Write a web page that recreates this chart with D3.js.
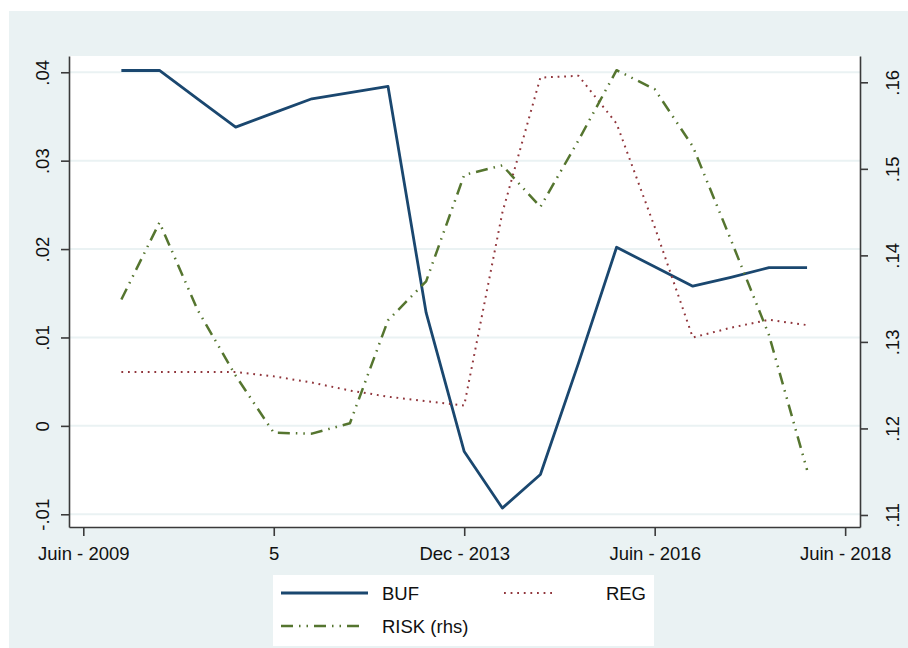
<!DOCTYPE html>
<html>
  <head>
    <meta charset="utf-8">
    <title>BUF REG RISK</title>
    <script src="https://d3js.org/d3.v7.min.js"></script>
    <style>
      body { margin: 0; background: #fff; }
      text { font-family: "Liberation Sans", Arial, sans-serif; fill: #111; }
    </style>
  </head>

  <body>
    <div class="chart"></div>

    <script>
      // periods 1..19 (axis runs 0..20)
      var periods = [1, 2, 3, 4, 5, 6, 7, 8, 9, 10, 11, 12, 13, 14, 15, 16, 17, 18, 19];

      var buf = [0.0402, 0.0402, 0.0370, 0.0338, 0.0354, 0.0370, 0.0377, 0.0384, 0.0128, -0.0029,
                 -0.0093, -0.0055, 0.0071, 0.0202, 0.0180, 0.0158, 0.0168, 0.0179, 0.0179];
      var reg = [0.0061, 0.0061, 0.0061, 0.0061, 0.0056, 0.0049, 0.0040, 0.0033, 0.0028, 0.0023,
                 0.0241, 0.0394, 0.0396, 0.0342, 0.0225, 0.0100, 0.0111, 0.0120, 0.0114];
      // right hand scale
      var risk = [0.1349, 0.1438, 0.1337, 0.1261, 0.1195, 0.1194, 0.1206, 0.1325, 0.1370, 0.1493,
                  0.1504, 0.1456, 0.1533, 0.1614, 0.1592, 0.1526, 0.1418, 0.1308, 0.1152];

      var xTicks = [0, 5, 10, 15, 20];
      var xLabels = ["Juin - 2009", "5", "Dec - 2013", "Juin - 2016", "Juin - 2018"];
      var yLeftTicks = [-0.01, 0, 0.01, 0.02, 0.03, 0.04];
      var yLeftLabels = ["-.01", "0", ".01", ".02", ".03", ".04"];
      var yRightTicks = [0.11, 0.12, 0.13, 0.14, 0.15, 0.16];
      var yRightLabels = [".11", ".12", ".13", ".14", ".15", ".16"];

      var W = 908, H = 648;
      var plot = {left: 69, right: 860, top: 56, bottom: 527};

      var svg = d3.select("div.chart").append("svg")
        .attr("width", W)
        .attr("height", H)

      // outer graph region
      svg.append("rect")
        .attr("x", 9).attr("y", 11)
        .attr("width", W - 9).attr("height", H - 11)
        .attr("fill", "#eaf2f3")

      svg.append("rect")
        .attr("x", plot.left).attr("y", plot.top)
        .attr("width", plot.right - plot.left).attr("height", plot.bottom - plot.top)
        .attr("fill", "#fff")

      var x = d3.scaleLinear().domain([-0.375, 20.39]).range([plot.left, plot.right]);
      var yL = d3.scaleLinear().domain([-0.01144, 0.04184]).range([plot.bottom, plot.top]);
      var yR = d3.scaleLinear().domain([0.10861, 0.16304]).range([plot.bottom, plot.top]);

      //grid
      svg.append("g").selectAll("line")
        .data(yLeftTicks)
        .enter().append("line")
        .attr("x1", plot.left).attr("x2", plot.right)
        .attr("y1", function (d) { return yL(d); })
        .attr("y2", function (d) { return yL(d); })
        .attr("stroke", "#eaf2f3")
        .attr("stroke-width", 2)

      var axisColor = "#3a3a3a";

      function styleAxis(g) {
        g.selectAll("path.domain").attr("stroke", axisColor).attr("stroke-width", 1.6);
        g.selectAll(".tick line").attr("stroke", axisColor).attr("stroke-width", 1.6);
        g.selectAll("text")
          .style("font-family", '"Liberation Sans", Arial, sans-serif')
          .style("font-size", "18.5px")
          .attr("fill", "#111");
      }

      var gx = svg.append("g")
        .attr("transform", "translate(0," + plot.bottom + ")")
        .call(d3.axisBottom(x).tickValues(xTicks).tickSize(9).tickSizeOuter(0)
          .tickFormat(function (d, i) { return xLabels[i]; }))
      styleAxis(gx);
      gx.selectAll("text").attr("y", 0).attr("dy", "33px");

      var gl = svg.append("g")
        .attr("transform", "translate(" + plot.left + ",0)")
        .call(d3.axisLeft(yL).tickValues(yLeftTicks).tickSize(8).tickSizeOuter(0)
          .tickFormat(function (d, i) { return yLeftLabels[i]; }))
      styleAxis(gl);
      gl.selectAll(".tick text")
        .attr("x", null).attr("dy", null)
        .attr("text-anchor", "middle")
        .attr("transform", "translate(-20,0) rotate(-90)")

      var gr = svg.append("g")
        .attr("transform", "translate(" + plot.right + ",0)")
        .call(d3.axisRight(yR).tickValues(yRightTicks).tickSize(8).tickSizeOuter(0)
          .tickFormat(function (d, i) { return yRightLabels[i]; }))
      styleAxis(gr);
      gr.selectAll(".tick text")
        .attr("x", null).attr("dy", null)
        .attr("text-anchor", "middle")
        .attr("transform", "translate(39,0) rotate(-90)")

      // series
      var lineL = d3.line()
        .x(function (d) { return x(d[0]); })
        .y(function (d) { return yL(d[1]); });
      var lineR = d3.line()
        .x(function (d) { return x(d[0]); })
        .y(function (d) { return yR(d[1]); });

      var series = [
        {name: "BUF", values: buf, line: lineL, color: "#1a476f", width: 2.8, dash: null},
        {name: "REG", values: reg, line: lineL, color: "#90353b", width: 2, dash: "1.8,4.8"},
        {name: "RISK (rhs)", values: risk, line: lineR, color: "#55752f", width: 2.5, dash: "12,6,1.5,6,1.5,6"}
      ];

      series.forEach(function (s) {
        svg.append("path")
          .datum(periods.map(function (p, i) { return [p, s.values[i]]; }))
          .attr("d", s.line)
          .attr("fill", "none")
          .attr("stroke", s.color)
          .attr("stroke-width", s.width)
          .attr("stroke-dasharray", s.dash)
          .attr("stroke-linejoin", "round")
      });

      //legend
      var leg = svg.append("g");
      leg.append("rect")
        .attr("x", 273).attr("y", 575)
        .attr("width", 381).attr("height", 71)
        .attr("fill", "#fff")

      var legItems = [
        {s: series[0], x1: 281, x2: 368, y: 593, tx: 382, ty: 600, anchor: "start"},
        {s: series[1], x1: 504, x2: 553, y: 593, tx: 646, ty: 600, anchor: "end"},
        {s: series[2], x1: 281, x2: 359, y: 626, tx: 382, ty: 633, anchor: "start"}
      ];
      legItems.forEach(function (d) {
        leg.append("line")
          .attr("x1", d.x1).attr("x2", d.x2)
          .attr("y1", d.y).attr("y2", d.y)
          .attr("stroke", d.s.color)
          .attr("stroke-width", d.s.width)
          .attr("stroke-dasharray", d.s.dash)
        leg.append("text")
          .attr("x", d.tx).attr("y", d.ty)
          .attr("text-anchor", d.anchor)
          .style("font-size", "18.5px")
          .text(d.s.name)
      });
    </script>

  </body>
</html>
